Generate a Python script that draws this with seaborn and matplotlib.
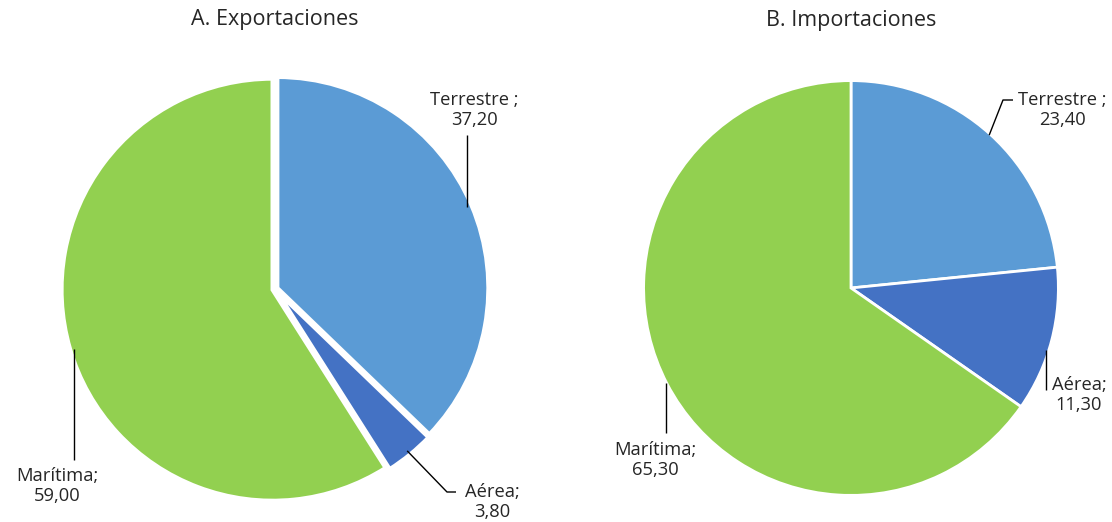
import numpy as np
import matplotlib
matplotlib.use("Agg")
import matplotlib.pyplot as plt
import seaborn as sns

# ---- data ----
categories = ["Terrestre", "Aérea", "Marítima"]
export_values = [37.20, 3.80, 59.00]
import_values = [23.40, 11.30, 65.30]
titles = ["A. Exportaciones", "B. Importaciones"]
label_texts_exp = ["Terrestre ;\n37,20", "Aérea;\n3,80", "Marítima;\n59,00"]
label_texts_imp = ["Terrestre ;\n23,40", "Aérea;\n11,30", "Marítima;\n65,30"]

colors = ["#5B9BD5", "#4472C4", "#92D050"]

sns.set_theme(style="white")
plt.rcParams["font.family"] = ["Open Sans", "DejaVu Sans"]

W, H = 1112, 522
fig = plt.figure(figsize=(W / 100, H / 100), dpi=100)

TXT = "#262626"


def make_axes(x0, x1):
    ax = fig.add_axes([x0 / W, 0, (x1 - x0) / W, 1])
    return ax


def set_limits(ax, x0, x1, info):
    cx, cy, r = info
    ax.set_aspect("auto")
    ax.set_xlim(-(cx - x0) / r, (x1 - cx) / r)
    ax.set_ylim(-(H - cy) / r, cy / r)
    ax.axis("off")


def px(ax_info, x, y):
    cx, cy, r = ax_info
    return (x - cx) / r, (cy - y) / r


def draw(ax, info, values, lw, explode, title, title_y):
    cx, cy, r = info
    ax.pie(values, colors=colors, startangle=90, counterclock=False,
           radius=1.0 + lw * 0.5 / 72 * 100 / r,
           explode=explode,
           wedgeprops=dict(edgecolor="white", linewidth=lw))
    tx, ty = px(info, cx, title_y)
    ax.text(tx, ty, title, ha="center", va="center", fontsize=15.5, color=TXT)
    cum = np.cumsum([0] + list(values))
    tot = cum[-1]
    mids = [np.deg2rad(90 - (cum[i] + values[i] / 2) / tot * 360) for i in range(len(values))]
    return [(np.cos(a), np.sin(a)) for a in mids]


def leader(ax, pts):
    xs, ys = zip(*pts)
    ax.plot(xs, ys, color="black", lw=1.0, solid_capstyle="butt", clip_on=False)


def label(ax, info, x, y, text):
    tx, ty = px(info, x, y)
    ax.text(tx, ty, text, ha="center", va="center", fontsize=13.2, color=TXT,
            linespacing=1.2, clip_on=False)


# ---- left pie ----
infoL = (275, 289, 209)
axL = make_axes(0, 556)
aL = draw(axL, infoL, export_values, 3.0, [0.012, 0.012, 0.012], titles[0], 20)
set_limits(axL, 0, 556, infoL)
ax_, ay_ = aL[0]
leader(axL, [(ax_, ay_), (ax_, px(infoL, 0, 135)[1])])
label(axL, infoL, 474, 110, label_texts_exp[0])
leader(axL, [aL[1], px(infoL, 447, 492), px(infoL, 456, 492)])
label(axL, infoL, 492, 502, label_texts_exp[1])
ax_, ay_ = aL[2]
leader(axL, [(ax_, ay_ - 0.01), (ax_, px(infoL, 0, 460)[1])])
label(axL, infoL, 57, 486, label_texts_exp[2])

# ---- right pie ----
infoR = (851, 288, 206)
axR = make_axes(556, 1112)
aR = draw(axR, infoR, import_values, 2.0, None, titles[1], 20)
set_limits(axR, 556, 1112, infoR)
leader(axR, [aR[0], px(infoR, 1003, 100), px(infoR, 1013, 100)])
label(axR, infoR, 1062, 110, label_texts_imp[0])
leader(axR, [px(infoR, 1046, 350), px(infoR, 1046, 390)])
label(axR, infoR, 1079, 395, label_texts_imp[1])
ax_, ay_ = aR[2]
leader(axR, [(ax_ - 0.01, ay_), (ax_ - 0.01, px(infoR, 0, 433)[1])])
label(axR, infoR, 655, 460, label_texts_imp[2])

fig.savefig("out.png", dpi=100, facecolor="white")
